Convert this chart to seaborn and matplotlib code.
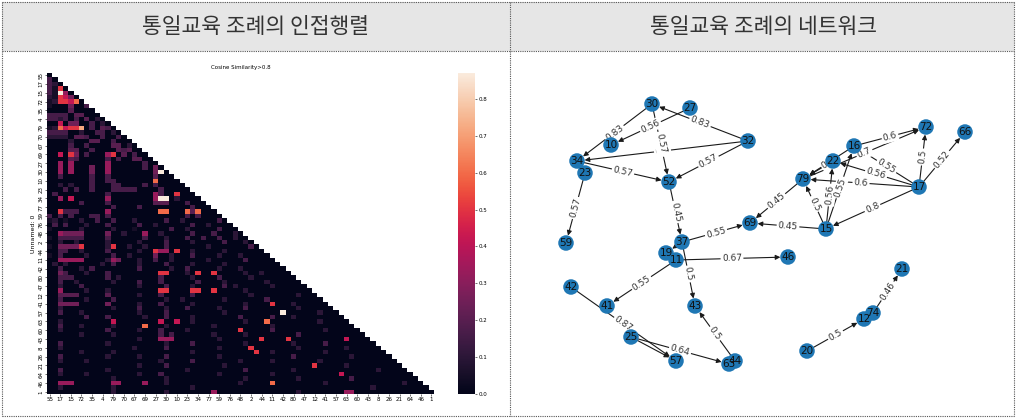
import numpy as np
import matplotlib.pyplot as plt
import pandas as pd
import seaborn as sns
from matplotlib.patches import Rectangle

# ---------------- heatmap data (cosine similarity, lower triangle) ----------------
labels = [55, 66, 17, 16, 15, 22, 72, 38, 35, 5, 4, 13, 79, 7, 70, 14, 67, 18, 69, 37,
          27, 32, 30, 52, 10, 28, 23, 25, 34, 31, 77, 33, 59, 36, 76, 19, 48, 39, 2, 40,
          44, 45, 11, 50, 42, 51, 80, 54, 47, 56, 12, 58, 41, 62, 57, 65, 63, 68, 60, 71,
          43, 74, 8, 75, 26, 78, 21, 9, 64, 20, 46, 24, 1]

# one character per cell (see levels below)
levels = {'.': 0.0, '1': 0.05, '2': 0.1, '3': 0.16, '4': 0.2, '5': 0.25, '6': 0.33,
          '7': 0.42, '8': 0.5, '9': 0.6, 'a': 0.72, 'P': 0.87}
sim_rows = [
    ".",
    "3",
    "32",
    "318",
    "31P6",
    "21875",
    "12887 9",
    "1...5 ..3",
    "....4 ....",
    "3333. 44...",
    "3323. 3.4.2",
    "..7.5 5..3. 2",
    "12978 8a.3. 43",
    "3333. .2..3 3.2",
    "2222. 443.. 3..3",
    "....2 ...44 ..3..",
    "....3 ..3.. ..44. 2",
    "....4 4..3. ...43 4",
    "..7.8 5.3.. .68.4 .3",
    "....4 3.... .3.3. .44",
    "..6.6 ..... .6... ...3",
    "..6.6 ...5. .6... ...3. 5",
    "..6.6 ...5. .6... ..... 5P",
    "..3.. ...3. .3... ..... 4",
    "..... ...3. .33.. ..... 9",
    "..2.2 ...3. ..33. ...3. 3",
    "...3. 3..3. ..333 33... .3..",
    ".3... ..... .3... ..... 63..8",
    "..6.7 ..... .6... ..... 6PP.2 ...",
    "..... .3... .3... ..... 444.. .3..",
    "..... ..... ..3.. ..3.. ..... ..3..",
    "..833 3.... .6... ..... .99.. .949. ..",
    "3.3.3 ...33 .3... ..... ..... .3.3. ...",
    "12.1. .2..3 ..3.. .2... ..3.. 2.... ..3.",
    ".3.3. ..2.. .3... ..3.. 2.... ..3.. 2....",
    "1.... .2... ..2.. .1... ...3. .2... ..3.. .",
    "..655 55... .5..2 ...6. .2... ..3.. .3... 2",
    "1.333 33... .3... ...3. ..2.. .3..3 ..3.. 2.",
    "..2.. 2.... .2... ..2.. ..3.. ..2.. ...3. ..2",
    "1.555 58... .28.. 2..2. ..3.. ..... 2.... ...3",
    "..33. .2... .3... ..2.. 866.8 ..2.. ...2. .....",
    "1.3.. ..2.. ..3.. 2.... 5..2. ..3.. ..2.. .2... ..",
    "..666 66... .265. ..2.. 3..2. ..... 2.... ..3.. ...",
    ".2.2. ..... 2.3.. ..2.. ..3.. ..2.. ...2. ..... ....",
    "..3.. .2.3. ..... ..3.. ...2. .3... ..2.. .2... .....",
    "..53. ..2.. .3... ..... .88.. .2.8. .8... ..2.. 2.....",
    "..333 ..... .3.2. ..... .3... ..2.. ..3.. ...2. ..... ..",
    "..3.. 2.... ..2.. ..3.. .3... ...3. ...2. ..... .2... ...",
    "..2.. .3... ..... ..2.. ..3.. ..2.. ...3. 2.... ..2.. ....",
    "..6.. ..2.. .2... ..... .88.. ..88. .8... ..2.. ..... .....",
    "..444 4.... .4... ..2.. .3... ..3.. ..... ...2. ..... ..2.. .",
    "..3.. ..2.. ..3.. ..... ..2.. 2.... ...2. ..... .3... ..... ..",
    "..555 5.... .5... ..2.. .3... ..2.. ..... ..2.. ..8.. .2... ...",
    "..2.. ..... ..2.. ..3.. ..2.. .3... ..2.. ..3.. ..... ..2.. ....",
    "..3.. .2... ..... ..2.. ..3.. ..... ...2. ..... ....P ..... .2...",
    "..... ..3.. .3... ...2. ..3.. ..2.. ..... .3... ..3.. .2... ..... .",
    "..2.. ..... ..7.. ..... .7..7 ..2.. ..... ..2.. .9... ..... .2... ..",
    "..3.. .2... ..2.. ...9. ..2.. ..... .2... ..... ..2.. ..... ..... ...",
    "..2.. ..... .3... ..2.. .3... .2... ..... .8... ..3.. ..... ..2.. ....",
    "..... .2... ..2.. ..... .3.3. ..... .2... ..2.. ..... ..3.. ..... .....",
    "..... ..... ..... ..2.. .666. ..... ..2.. ..... 8.... 8.... ..... .7... .",
    "..3.. ..... .2... ..... ..2.. ..3.. ..... ..2.. ..... .2... ..3.. ..... ..",
    "..2.. ..... ..... .2... ..3.. ..... ..2.. ...8. ..... ..2.. ..... .2... ...",
    "..... .2... ..2.. ..... ..... ..2.. ..... ....8 ..2.. ..... ..2.. ..... ....",
    "..3.. ..... .2... ..2.. ..3.. ..... ..2.. ..... ..... .3... ..... ..2.. .....",
    "..2.. ..2.. ..... ..... .2... ..3.. ..... .2... ..2.. ..... .2... ..... ......",
    "..... ..... ..... ..2.. ..3.. ..... ...2. ..... ..... ..... 8.... .2... ..... ..",
    "..3.. ..... .2... ..... ..... .2... ..... ..3.. ..... .2... ..... ..... ..2.. ...",
    "..2.. ..2.. ..... ..2.. .3... ..... ..2.. ..... ..2.. ..... ..... 7.... ..... ....",
    "..... ..... ..2.. ..... ..2.. ..... ..... ..2.. ..... ..2.. ..... ..3.. ..... .....",
    "..666 ..... ..66. ...6. ..2.. ..... ..... .2... ..9.. ..... ..2.. ..... ..... ..2.. .",
    "..2.. ..... ..2.. ..... ..... ..2.. ..... ..... ..... ..... ..... ..... .2... ..... ..",
    "..... ..... ..2.. ..... ..2.. ..... .6... ..... ..... ..2.. ..... .66.. ..... ..... ...",
]

# ---------------- network data ----------------
node_ids = [30, 27, 10, 32, 34, 23, 52, 59, 69, 37, 19, 11, 46, 42, 41, 43, 25, 57, 63, 44,
            16, 72, 66, 22, 79, 17, 15, 21, 74, 12, 20]
node_x = [652, 690, 611, 748, 577, 585, 669, 566, 750, 682, 666, 676, 788, 571, 607, 695, 631,
          676, 729, 735, 854, 926, 965, 833, 803, 919, 826, 902, 873, 864, 807]
node_y = [104, 108, 145, 141, 161, 173, 182, 243, 223, 242, 253, 260, 257, 287, 306, 306, 337,
          361, 364, 361, 146, 127, 132, 161, 179, 187, 229, 269, 313, 319, 351]

edge_src = [30, 27, 32, 32, 30, 32, 34, 23, 52, 37, 37, 11, 11, 37, 44, 42, 25, 25,
            79, 15, 16, 79, 17, 17, 17, 17, 17, 17, 15, 15, 15, 16, 22, 74, 20]
edge_dst = [34, 10, 30, 34, 52, 52, 52, 59, 37, 69, 19, 46, 41, 43, 43, 57, 63, 57,
            69, 69, 72, 72, 16, 22, 79, 72, 66, 15, 79, 22, 16, 79, 79, 21, 12]
edge_lbl = ['0.83', '0.56', '0.83', '0.6', '0.57', '0.57', '0.57', '0.57', '0.45', '0.55', '',
            '0.67', '0.55', '0.5', '0.5', '0.87', '0.64', '',
            '0.45', '0.45', '0.6', '0.7', '0.55', '0.56', '0.6', '0.5', '0.52', '0.8',
            '0.5', '0.56', '0.55', '0.5', '', '0.46', '0.5']

W, H = 1017, 419


def fig_box(x0, y0, x1, y1):
    # pixel box (top-left origin) -> figure fraction rect
    return [x0 / W, 1 - y1 / H, (x1 - x0) / W, (y1 - y0) / H]


plt.rcParams['font.family'] = ['DejaVu Sans']
fig = plt.figure(figsize=(W / 100, H / 100), dpi=100)

# table frame / header
bg = fig.add_axes([0, 0, 1, 1], zorder=-1)
bg.set_xlim(0, W)
bg.set_ylim(H, 0)
bg.axis('off')
bg.add_patch(Rectangle((2, 2), 1012, 49, facecolor='#e6e6e6', edgecolor='none'))
dot = dict(color='#555555', lw=0.8, linestyle=(0, (1, 1)))
for y in (2, 51, 416):
    bg.plot([2, 1014], [y, y], **dot)
for x in (2, 510, 1014):
    bg.plot([x, x], [2, 416], **dot)
kfont = ['Noto Sans CJK KR', 'DejaVu Sans']
bg.text(256, 27, '통일교육 조례의 인접행렬', fontsize=15.5, family=kfont, color='#333333',
        ha='center', va='center')
bg.text(763, 27, '통일교육 조례의 네트워크', fontsize=15.5, family=kfont, color='#333333',
        ha='center', va='center')

# ---------------- heatmap ----------------
n = len(labels)
sim = np.zeros((n, n))
for i, row in enumerate(sim_rows):
    row = row.replace(' ', '')
    for j, ch in enumerate(row[:i + 1]):
        sim[i, j] = levels[ch]
df = pd.DataFrame(sim, index=labels, columns=labels)
df.index.name = 'Unnamed: 0'
mask = np.triu(np.ones_like(sim, dtype=bool), k=1)

ax = fig.add_axes(fig_box(47, 73, 434, 394))
cax = fig.add_axes(fig_box(458, 73, 475, 394))
sns.heatmap(df, mask=mask, cmap='rocket', ax=ax, cbar_ax=cax,
            xticklabels=2, yticklabels=2)
ax.set_title('Cosine Similarity>0.8', fontsize=4, pad=3)
ax.set_ylabel('Unnamed: 0', fontsize=4.5, labelpad=2)
ax.tick_params(labelsize=4, length=1.5, width=0.4, pad=1)
plt.setp(ax.get_yticklabels(), rotation=90, va='center')
plt.setp(ax.get_xticklabels(), rotation=0)
cax.tick_params(labelsize=4, length=1.5, width=0.4, pad=1)
cax.set_yticks(np.arange(0, 0.81, 0.1))

# ---------------- network ----------------
nx_ax = fig.add_axes(fig_box(512, 52, 1012, 414))

pos = dict(zip(node_ids, zip(node_x, node_y)))
for s, d, lbl in zip(edge_src, edge_dst, edge_lbl):
    (x1, y1), (x2, y2) = pos[s], pos[d]
    nx_ax.annotate('', xy=(x2, y2), xytext=(x1, y1), zorder=1,
                   arrowprops=dict(arrowstyle='-|>', color='#1a1a1a', lw=0.8,
                                   shrinkA=0, shrinkB=5.5, mutation_scale=7))
    if lbl:
        ang = np.degrees(np.arctan2(-(y2 - y1), x2 - x1))
        if ang > 90:
            ang -= 180
        elif ang < -90:
            ang += 180
        nx_ax.text((x1 + x2) / 2, (y1 + y2) / 2, lbl, fontsize=6.5, color='#333333',
                   rotation=ang, rotation_mode='anchor', ha='center', va='center', zorder=1.5,
                   bbox=dict(boxstyle='round,pad=0.15', fc='white', ec='none'))

nodes = pd.DataFrame({'x': node_x, 'y': node_y})
sns.scatterplot(data=nodes, x='x', y='y', ax=nx_ax, s=125, color='#1f77b4',
                edgecolor='none', linewidth=0, zorder=3, legend=False)
nx_ax.set_xlim(512, 1012)
nx_ax.set_ylim(414, 52)
nx_ax.axis('off')
for nid, x, y in zip(node_ids, node_x, node_y):
    nx_ax.text(x, y, str(nid), fontsize=7.5, color='#111111', ha='center', va='center', zorder=4)

fig.savefig('out.png', dpi=100)
